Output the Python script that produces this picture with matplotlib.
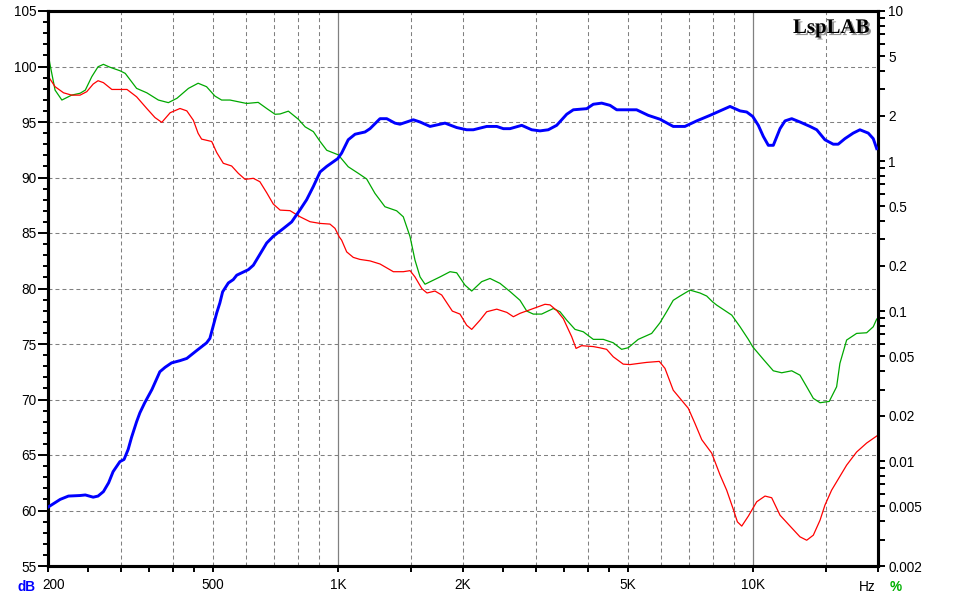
import matplotlib
matplotlib.use('Agg')
import matplotlib.pyplot as plt
import matplotlib.ticker as mticker
import matplotlib.patheffects as pe
from matplotlib.transforms import blended_transform_factory, ScaledTranslation

plt.rcParams['font.family'] = ['Liberation Sans', 'DejaVu Sans']

# ---- data ----
freq_spl = [200, 214, 224, 239, 246, 257, 264, 272, 280, 287, 298, 305, 312, 318, 327, 333, 342, 356,
            372, 383, 397, 416, 432, 456, 482, 491, 500, 510, 519, 527, 544, 559, 570, 608, 625, 673,
            698, 738, 773, 810, 840, 872, 905, 939, 998, 1020, 1058, 1099, 1161, 1194, 1262, 1310,
            1371, 1410, 1518, 1576, 1666, 1810, 1931, 2041, 2118, 2281, 2412, 2502, 2596, 2770, 2928,
            3066, 3210, 3363, 3556, 3689, 3973, 4121, 4318, 4522, 4693, 5240, 5590, 5966, 6421, 6850,
            7315, 7875, 8324, 8800, 9303, 9654, 9980, 10296, 10585, 10883, 11188, 11613, 11940, 12391,
            12972, 13715, 14236, 14900, 15600, 16037, 16646, 17430, 18090, 18947, 19480, 19857]
spl_db = [60.3, 61.0, 61.3, 61.35, 61.4, 61.2, 61.3, 61.7, 62.5, 63.5, 64.4, 64.6, 65.5, 66.6, 68.0,
          68.8, 69.7, 70.9, 72.5, 72.9, 73.3, 73.5, 73.7, 74.4, 75.1, 75.5, 76.6, 77.8, 78.7, 79.7,
          80.5, 80.8, 81.2, 81.7, 82.1, 84.1, 84.7, 85.4, 86.0, 87.1, 88.0, 89.2, 90.5, 91.0, 91.7,
          92.2, 93.4, 93.9, 94.1, 94.4, 95.3, 95.3, 94.9, 94.8, 95.2, 95.0, 94.6, 94.9, 94.5, 94.3,
          94.3, 94.6, 94.6, 94.4, 94.4, 94.7, 94.3, 94.2, 94.3, 94.7, 95.7, 96.1, 96.2, 96.6, 96.7,
          96.5, 96.1, 96.1, 95.6, 95.25, 94.6, 94.6, 95.1, 95.6, 96.0, 96.4, 96.0, 95.9, 95.5, 94.7,
          93.7, 92.9, 92.9, 94.4, 95.1, 95.3, 95.0, 94.6, 94.3, 93.4, 93.0, 93.0, 93.5, 94.0, 94.3,
          94.0, 93.5, 92.6]

freq_h2 = [200, 202, 208, 216, 228, 239, 246, 255, 264, 272, 282, 298, 307, 327, 346, 369, 390, 409,
           436, 460, 482, 505, 524, 549, 602, 642, 673, 705, 725, 759, 802, 833, 872, 905, 939, 1001,
           1058, 1119, 1172, 1227, 1297, 1384, 1436, 1491, 1532, 1576, 1620, 1761, 1861, 1931, 2022,
           2099, 2218, 2323, 2456, 2596, 2744, 2849, 2954, 3094, 3301, 3426, 3556, 3724, 3898, 4121,
           4355, 4603, 4822, 5003, 5288, 5697, 5966, 6190, 6421, 6667, 7046, 7449, 7731, 7994, 8173,
           8885, 9303, 9474, 9741, 9980, 10585, 11188, 11721, 12391, 12972, 13466, 13970, 14500,
           15258, 15897, 16189, 16804, 17762, 18780, 19480, 19857]
h2_pct = [5.35, 4.48, 2.97, 2.55, 2.75, 2.83, 2.97, 3.65, 4.25, 4.41, 4.22, 4.0, 3.84, 3.05, 2.85,
          2.55, 2.45, 2.62, 3.05, 3.3, 3.13, 2.71, 2.55, 2.55, 2.42, 2.46, 2.24, 2.05, 2.06, 2.15,
          1.9, 1.69, 1.57, 1.35, 1.18, 1.1, 0.916, 0.828, 0.759, 0.609, 0.496, 0.466, 0.425, 0.313,
          0.219, 0.169, 0.151, 0.169, 0.183, 0.18, 0.149, 0.136, 0.157, 0.165, 0.153, 0.135, 0.118,
          0.1, 0.0955, 0.0955, 0.104, 0.099, 0.087, 0.0755, 0.0728, 0.0648, 0.0648, 0.0615, 0.0556,
          0.057, 0.0648, 0.071, 0.0836, 0.099, 0.118, 0.126, 0.138, 0.132, 0.126, 0.115, 0.1096,
          0.094, 0.0786, 0.0728, 0.0648, 0.0578, 0.0477, 0.04, 0.0388, 0.04, 0.0374, 0.0313, 0.0262,
          0.0245, 0.025, 0.0313, 0.0448, 0.0641, 0.071, 0.0717, 0.0786, 0.0885]

freq_h3 = [200, 208, 218, 228, 239, 248, 257, 264, 272, 285, 298, 310, 327, 346, 362, 376, 394, 416,
           432, 448, 460, 469, 496, 510, 529, 554, 575, 597, 625, 648, 673, 698, 725, 766, 810, 856,
           905, 956, 983, 1006, 1020, 1049, 1088, 1129, 1194, 1262, 1359, 1436, 1491, 1532, 1592,
           1638, 1712, 1777, 1885, 1967, 2041, 2099, 2198, 2281, 2412, 2551, 2645, 2744, 2954, 3152,
           3241, 3363, 3490, 3591, 3656, 3745, 3863, 4121, 4276, 4437, 4603, 4866, 5051, 5144, 5437,
           5542, 5943, 6134, 6421, 6667, 6981, 7246, 7522, 7950, 8324, 8638, 8962, 9166, 9391, 9741,
           10204, 10685, 11088, 11613, 12277, 12972, 13466, 13970, 14500, 14900, 15460, 16804,
           17762, 18780, 19857]
h3_pct = [3.69, 3.13, 2.85, 2.75, 2.75, 2.9, 3.26, 3.43, 3.33, 3.0, 3.0, 3.0, 2.68, 2.24, 1.95, 1.81,
          2.1, 2.24, 2.16, 1.87, 1.53, 1.4, 1.35, 1.14, 0.966, 0.927, 0.828, 0.755, 0.767, 0.728,
          0.615, 0.517, 0.471, 0.467, 0.425, 0.394, 0.384, 0.38, 0.356, 0.313, 0.297, 0.248, 0.228,
          0.221, 0.216, 0.206, 0.183, 0.183, 0.186, 0.169, 0.141, 0.132, 0.136, 0.128, 0.1, 0.0955,
          0.0805, 0.0755, 0.087, 0.099, 0.103, 0.098, 0.0917, 0.0966, 0.104, 0.111, 0.11, 0.101,
          0.089, 0.075, 0.0674, 0.0564, 0.0588, 0.058, 0.0569, 0.0556, 0.0496, 0.0443, 0.044, 0.0443,
          0.0452, 0.0455, 0.0462, 0.0415, 0.0297, 0.0262, 0.0225, 0.0178, 0.0139, 0.0113, 0.0081,
          0.0064, 0.00477, 0.00394, 0.00369, 0.0043, 0.00536, 0.00585, 0.0057, 0.00436, 0.00369,
          0.00313, 0.00297, 0.00321, 0.00404, 0.00509, 0.0064, 0.0094, 0.0115, 0.0132, 0.0147]

db_ticks = [55, 60, 65, 70, 75, 80, 85, 90, 95, 100, 105]
pct_ticks = [10, 5, 2, 1, 0.5, 0.2, 0.1, 0.05, 0.02, 0.01, 0.005, 0.002]
pct_labels = ['10', '5', '2', '1', '0.5', '0.2', '0.1', '0.05', '0.02', '0.01', '0.005', '0.002']
pct_minor = [9, 8, 7, 6, 4, 3, 0.9, 0.8, 0.7, 0.6, 0.4, 0.3, 0.09, 0.08, 0.07, 0.06, 0.04, 0.03,
             0.009, 0.008, 0.007, 0.006, 0.004, 0.003]
freq_ticks = [200, 500, 1000, 2000, 5000, 10000]
freq_labels = ['200', '500', '1K', '2K', '5K', '10K']
freq_minor = [250, 300, 350, 400, 450, 1500, 2500, 3000, 3500, 4000, 4500, 15000, 20000]
grid_dashed_freqs = [300, 400, 500, 600, 700, 800, 900, 1500, 2000, 3000, 4000, 5000, 6000, 7000,
                     8000, 9000, 15000]
grid_solid_freqs = [1000, 10000]
grid_db = [60, 65, 70, 75, 80, 85, 90, 95, 100]

# ---- figure ----
W, H = 957, 596
fig = plt.figure(figsize=(W / 100, H / 100), dpi=100)
rect = [48 / W, 30 / H, 830 / W, 555 / H]
ax2 = fig.add_axes(rect)                 # % axis (bottom layer)
ax = fig.add_axes(rect, sharex=ax2)      # dB axis (top layer)
ax.set_zorder(2)
ax2.set_zorder(1)
ax.patch.set_visible(False)

ax2.set_xscale('log')
ax2.set_xlim(200, 20000)
ax.set_ylim(55, 105)
ax2.set_yscale('log')
ax2.set_ylim(0.002, 10)

grid_color = '#808080'
dash = (0, (3.8, 2.9))
for f in grid_dashed_freqs:
    ax2.axvline(f, color=grid_color, lw=0.75, ls=dash, zorder=0)
for f in grid_solid_freqs:
    ax2.axvline(f, color=grid_color, lw=0.9, ls='-', zorder=0)
htrans = blended_transform_factory(ax2.transAxes, ax.transData)
for d in grid_db:
    ax2.plot([0, 1], [d, d], transform=htrans, color=grid_color, lw=0.75, ls=dash, zorder=0)

ax2.plot(freq_h2, h2_pct, color='#00a800', lw=0.9, zorder=2)
ax2.plot(freq_h3, h3_pct, color='#ff0000', lw=0.9, zorder=3)
ax.plot(freq_spl, spl_db, color='#0000ff', lw=2.1, zorder=4, solid_joinstyle='round')

# spines
for a in (ax, ax2):
    for s in a.spines.values():
        s.set_linewidth(2.2)
        s.set_color('black')

fs = 9.8
# left axis
ax.set_yticks(db_ticks)
ax.set_yticklabels([str(v) for v in db_ticks])
ax.yaxis.set_minor_locator(mticker.MultipleLocator(1))
ax.tick_params(axis='y', which='major', direction='out', length=7.2, width=1.4, pad=1.0, labelsize=fs)
ax.tick_params(axis='y', which='minor', direction='out', length=3.6, width=1.4)

# x axis
ax.set_xticks(freq_ticks)
ax.set_xticklabels(freq_labels)
ax.xaxis.set_minor_locator(mticker.FixedLocator(freq_minor))
ax.xaxis.set_minor_formatter(mticker.NullFormatter())
ax.tick_params(axis='x', which='both', direction='out', length=4.3, width=1.4, pad=4.6, labelsize=fs)
ax2.tick_params(axis='x', which='both', bottom=False, labelbottom=False, top=False)
lab200 = ax.get_xticklabels()[0]
lab200.set_transform(lab200.get_transform() + ScaledTranslation(6 / 100, 0, fig.dpi_scale_trans))

# right axis
ax2.yaxis.tick_right()
ax2.set_yticks(pct_ticks)
ax2.set_yticklabels(pct_labels)
ax2.yaxis.set_minor_locator(mticker.FixedLocator(pct_minor))
ax2.yaxis.set_minor_formatter(mticker.NullFormatter())
ax2.tick_params(axis='y', which='both', direction='out', length=5, width=1.4, pad=2.5, labelsize=fs)

# axis unit labels
base_y = (H - 590.7) / H
fig.text(17 / W, base_y, 'dB', color='#0000ff', fontweight='bold', fontsize=fs, va='baseline', ha='left')
fig.text(876 / W, base_y, 'Hz', color='black', fontsize=fs, va='baseline', ha='right')
fig.text(890 / W, base_y, '%', color='#00b000', fontweight='bold', fontsize=fs, va='baseline', ha='left')

# brand
ax.text((870 - 48) / 830, (566 - 33) / 555, 'LspLAB', transform=ax.transAxes, ha='right', va='baseline',
        fontfamily=['Liberation Serif', 'DejaVu Serif'], fontweight='bold', fontsize=15, color='black',
        zorder=10,
        path_effects=[pe.SimplePatchShadow(offset=(1.5, -1.5), shadow_rgbFace='#888888', alpha=0.9),
                      pe.Normal()])

fig.savefig('out.png', dpi=100)
